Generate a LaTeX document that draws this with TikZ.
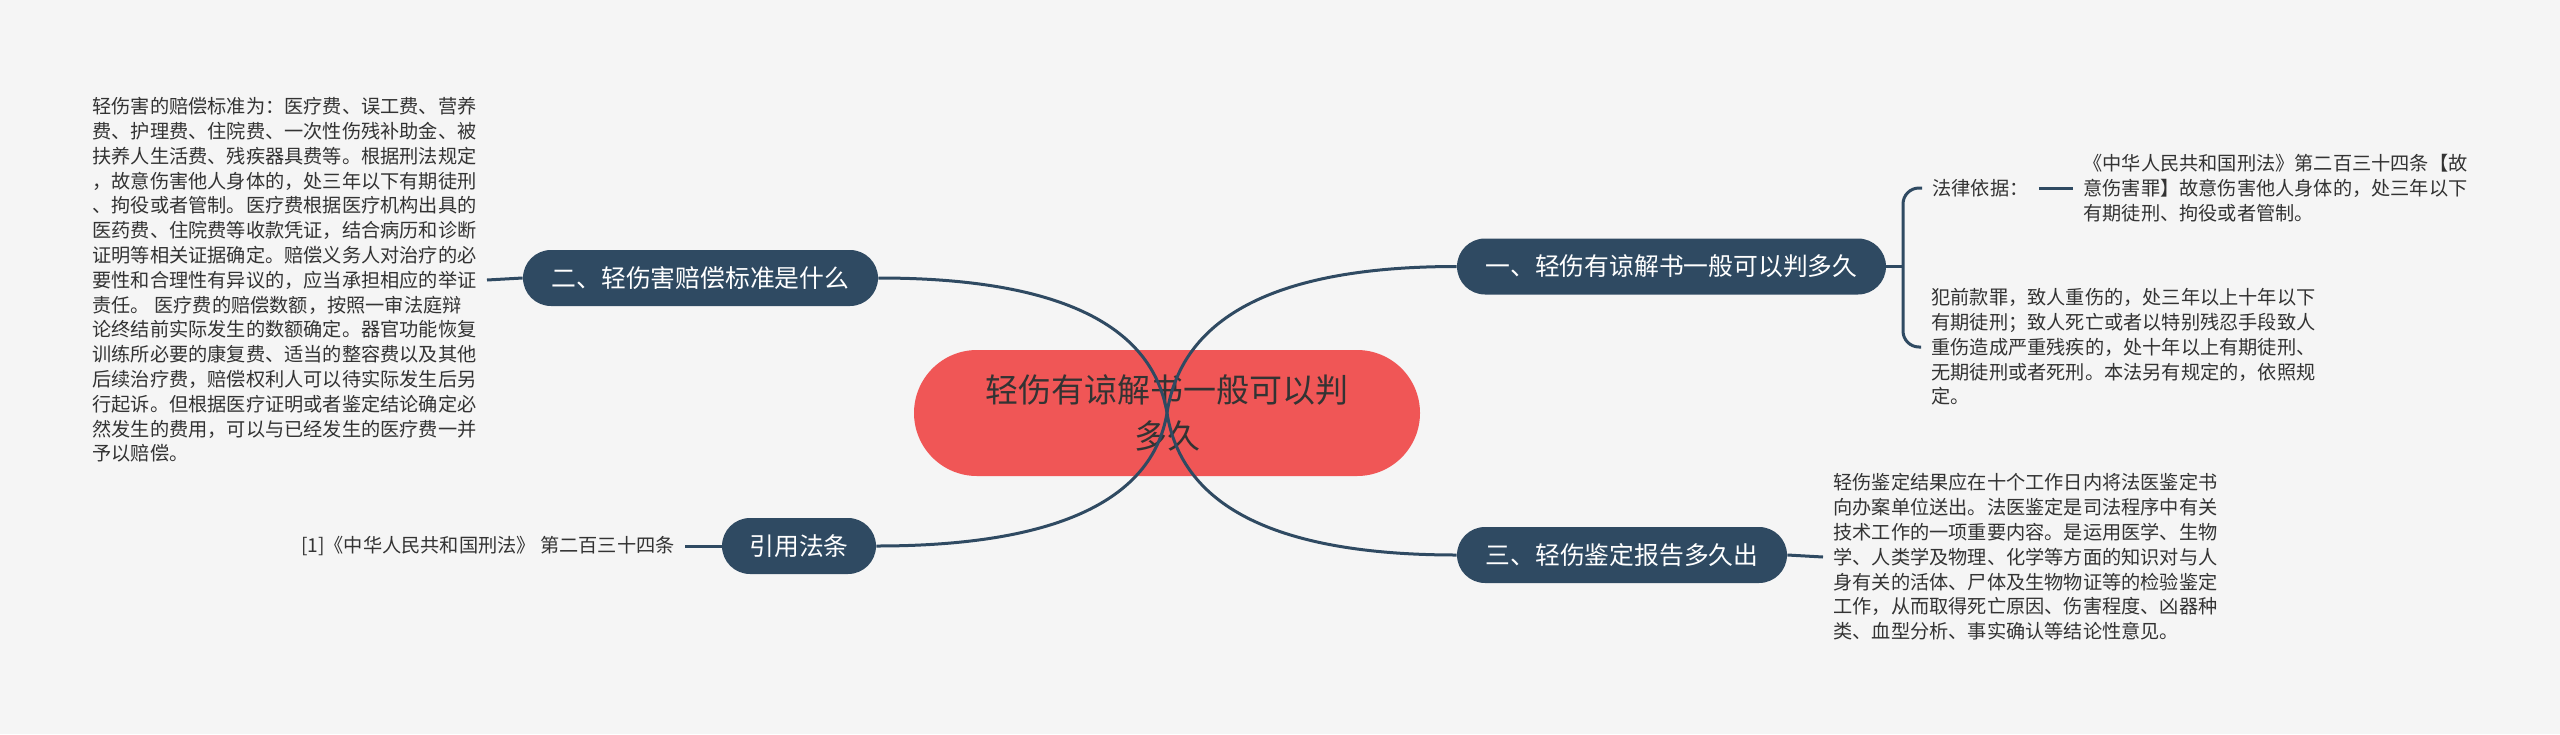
\documentclass[tikz,border=0pt]{standalone}
\usepackage{fontspec}
\setmainfont{Noto Sans CJK SC}
\definecolor{bgc}{HTML}{F5F5F5}
\definecolor{branchc}{HTML}{2F4A62}
\definecolor{rootc}{HTML}{F05656}
\definecolor{linec}{HTML}{2F4A62}
\definecolor{txtc}{HTML}{333333}
\begin{document}
\begin{tikzpicture}[x=0.5pt,y=-0.5pt,
  branchbox/.style={rectangle, rounded corners=14pt, fill=branchc, text=white,
    font=\fontsize{12.4}{15}\selectfont, minimum height=28pt, inner sep=0pt},
  leaftext/.style={align=left, text=txtc, font=\fontsize{9.6}{12.4}\selectfont,
    inner xsep=5pt, inner ysep=0pt},
  link/.style={draw=linec, line width=1.5pt},
]
\fill[bgc] (0,0) rectangle (2560,734);
\useasboundingbox (0,0) rectangle (2560,734);

% root
\node[rectangle, rounded corners=31.5pt, fill=rootc, text=txtc, align=center,
  minimum width=253pt, minimum height=63pt, inner sep=0pt,
  font=\fontsize{16.5}{23}\selectfont] (root) at (1167,413)
  {轻伤有谅解书一般可以判\\多久};

% branches
\node[branchbox, minimum width=214.5pt] (n1) at (1671.5,266.5) {一、轻伤有谅解书一般可以判多久};
\node[branchbox, minimum width=177.5pt] (n2) at (700.5,278) {二、轻伤害赔偿标准是什么};
\node[branchbox, minimum width=165pt] (n3) at (1622,555) {三、轻伤鉴定报告多久出};
\node[branchbox, minimum width=77pt] (n4) at (799,546) {引用法条};

% curves from root
\draw[link] (root.center) .. controls (1182,315) and (1279,266.5) .. (n1.west);
\draw[link] (root.center) .. controls (1182,508) and (1279,555) .. (n3.west);
\draw[link] (root.center) .. controls (1152,323) and (1055,278) .. (n2.east);
\draw[link] (root.center) .. controls (1152,502) and (1053,546) .. (n4.east);

% leaves
\node[leaftext, anchor=east] (l2) at (487,280) {轻伤害的赔偿标准为：医疗费、误工费、营养\\
费、护理费、住院费、一次性伤残补助金、被\\
扶养人生活费、残疾器具费等。根据刑法规定\\
，故意伤害他人身体的，处三年以下有期徒刑\\
、拘役或者管制。医疗费根据医疗机构出具的\\
医药费、住院费等收款凭证，结合病历和诊断\\
证明等相关证据确定。赔偿义务人对治疗的必\\
要性和合理性有异议的，应当承担相应的举证\\
责任。 医疗费的赔偿数额，按照一审法庭辩\\
论终结前实际发生的数额确定。器官功能恢复\\
训练所必要的康复费、适当的整容费以及其他\\
后续治疗费，赔偿权利人可以待实际发生后另\\
行起诉。但根据医疗证明或者鉴定结论确定必\\
然发生的费用，可以与已经发生的医疗费一并\\
予以赔偿。};

\node[leaftext, anchor=east] (l4) at (685,546) {[1]《中华人民共和国刑法》 第二百三十四条};

\node[leaftext, anchor=west] (falv) at (1922,188) {法律依据：};
\node[leaftext, anchor=west] (law) at (2073,188) {《中华人民共和国刑法》第二百三十四条【故\\
意伤害罪】故意伤害他人身体的，处三年以下\\
有期徒刑、拘役或者管制。};
\node[leaftext, anchor=west] (fan) at (1921,347) {犯前款罪，致人重伤的，处三年以上十年以下\\
有期徒刑；致人死亡或者以特别残忍手段致人\\
重伤造成严重残疾的，处十年以上有期徒刑、\\
无期徒刑或者死刑。本法另有规定的，依照规\\
定。};

\node[leaftext, anchor=west] (l3) at (1823,557) {轻伤鉴定结果应在十个工作日内将法医鉴定书\\
向办案单位送出。法医鉴定是司法程序中有关\\
技术工作的一项重要内容。是运用医学、生物\\
学、人类学及物理、化学等方面的知识对与人\\
身有关的活体、尸体及生物物证等的检验鉴定\\
工作，从而取得死亡原因、伤害程度、凶器种\\
类、血型分析、事实确认等结论性意见。};

% leaf connectors
\draw[link] (n2.west) -- (l2.east);
\draw[link] (n4.west) -- (l4.east);
\draw[link] (n3.east) -- (l3.west);
\draw[link] (falv.east) -- (law.west);
\coordinate (bk) at (1903,266.5);
\draw[link] (n1.east) -- (bk);
\draw[link, rounded corners=8pt] (falv.west) -| (bk) |- (fan.west);
\end{tikzpicture}
\end{document}
